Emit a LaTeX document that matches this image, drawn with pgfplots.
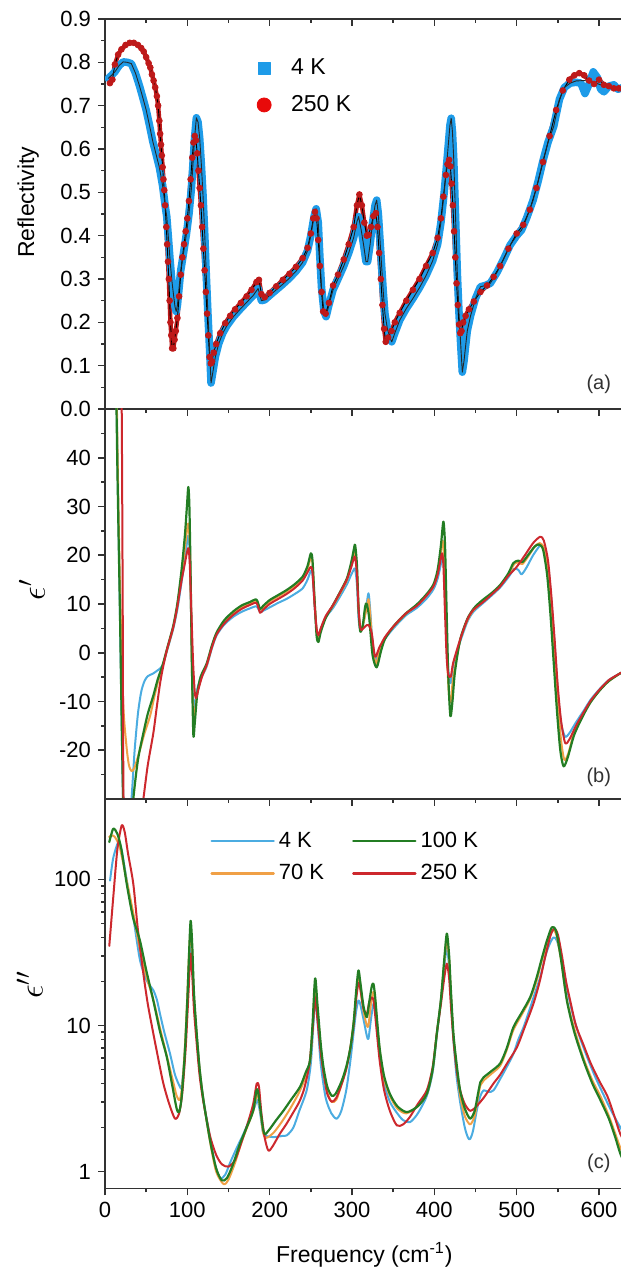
\documentclass[border=0pt]{standalone}
\usepackage{fontspec}
\setmainfont{Liberation Sans}
\usepackage{pgfplots}
\usepackage{pgfplotstable}
\pgfplotsset{compat=1.18}
\definecolor{cblueA}{RGB}{30,155,232}
\definecolor{credA}{RGB}{190,25,25}
\definecolor{credL}{RGB}{232,10,10}
\definecolor{cblue}{RGB}{75,172,225}
\definecolor{corange}{RGB}{240,160,70}
\definecolor{cgreen}{RGB}{35,125,35}
\definecolor{cred}{RGB}{205,40,45}
\definecolor{axgray}{RGB}{50,50,50}

% ---------------- panel (a) : reflectivity ----------------
\pgfplotstableread{
x y
4 0.763
8 0.770
12 0.778
17 0.792
22 0.801
27 0.800
32 0.797
37 0.775
42 0.745
46 0.718
50 0.690
54 0.655
58 0.618
62 0.588
66 0.558
70 0.515
73 0.470
75 0.444
77 0.395
79 0.344
81 0.300
83 0.267
85 0.236
86.5 0.225
88 0.240
90 0.280
92 0.320
95 0.355
99 0.405
102 0.450
105 0.510
107 0.570
109 0.630
111 0.672
113 0.662
115 0.625
117 0.565
119 0.495
121 0.410
123 0.310
125 0.220
127 0.140
128.8 0.060
131 0.085
134 0.120
138 0.150
143 0.175
148 0.192
156 0.213
164 0.230
172 0.246
180 0.262
186 0.278
190 0.250
194 0.252
200 0.262
208 0.275
216 0.288
224 0.302
232 0.318
240 0.338
246 0.365
250 0.400
254 0.445
256.5 0.462
259 0.430
261 0.350
263 0.280
266 0.225
268.5 0.213
272 0.240
277 0.275
283 0.300
290 0.330
296 0.360
302 0.395
306 0.432
308 0.444
311 0.415
314 0.380
317 0.340
319 0.340
322 0.380
325 0.430
328 0.470
330 0.482
332 0.450
334 0.390
336 0.330
338 0.270
340 0.220
343 0.185
346 0.165
348.3 0.155
352 0.175
358 0.205
366 0.232
374 0.255
382 0.280
390 0.308
398 0.342
404 0.380
408 0.430
412 0.500
415 0.565
417 0.610
419 0.655
420.5 0.671
422 0.640
423.5 0.580
425 0.490
426.5 0.400
428 0.310
430 0.220
432 0.150
434 0.085
436 0.110
440 0.180
444 0.215
450 0.255
456 0.282
462 0.285
468 0.290
476 0.315
484 0.345
492 0.378
500 0.400
506 0.413
512 0.440
520 0.482
526 0.525
532 0.573
538 0.615
545 0.652
552 0.715
558 0.742
565 0.752
572 0.754
578 0.752
583 0.728
588 0.750
593 0.778
598 0.765
602 0.738
606 0.732
612 0.745
618 0.748
623 0.738
629 0.742
634 0.740
}\reffourK

\pgfplotstableread{
x y
6 0.752
9 0.760
12 0.795
16 0.818
20 0.830
25 0.840
30 0.845
35 0.845
40 0.840
44 0.833
47 0.825
50 0.812
53 0.798
55 0.788
57 0.772
59 0.758
61 0.742
63 0.722
64.5 0.700
66 0.665
67 0.635
68 0.610
69 0.585
70 0.558
71 0.530
72 0.505
73 0.470
74.5 0.420
75.5 0.380
76.5 0.340
77.5 0.300
78.5 0.250
79.5 0.200
80.5 0.170
81.5 0.140
83 0.140
84.5 0.160
86 0.180
88 0.210
90 0.260
92 0.310
94 0.350
96 0.380
98 0.410
100 0.440
102 0.480
104 0.530
106 0.580
107.5 0.615
109 0.630
110.5 0.620
112 0.590
113.5 0.550
115 0.510
116.5 0.470
118 0.420
119.5 0.370
121 0.320
122.5 0.270
124 0.220
125.5 0.170
127 0.120
128.5 0.105
130 0.110
132 0.130
135 0.150
140 0.175
146 0.198
152 0.215
158 0.230
165 0.245
172 0.260
178 0.275
184 0.293
187 0.298
190 0.265
194 0.258
200 0.268
208 0.283
216 0.298
224 0.312
232 0.328
240 0.348
246 0.372
250 0.405
253 0.440
255 0.455
257 0.440
259 0.390
261 0.330
263 0.270
265 0.225
268 0.220
272 0.245
277 0.285
283 0.310
290 0.345
296 0.380
302 0.420
306 0.470
309 0.495
312 0.470
315 0.430
318 0.400
320 0.402
323 0.420
326 0.445
329 0.452
331 0.420
333 0.360
335 0.300
337 0.240
339 0.185
341 0.155
344 0.165
348 0.180
352 0.200
358 0.222
366 0.250
374 0.275
382 0.300
390 0.330
398 0.360
404 0.395
408 0.440
411 0.490
414 0.540
416 0.565
418 0.575
419.5 0.560
421 0.520
422.5 0.470
424 0.410
425.5 0.350
427 0.290
428.5 0.240
430 0.195
431.5 0.175
433 0.180
435 0.200
438 0.215
442 0.230
448 0.248
456 0.270
464 0.285
472 0.305
480 0.330
490 0.370
500 0.405
508 0.425
516 0.460
524 0.510
532 0.570
540 0.630
548 0.690
556 0.735
564 0.760
570 0.770
576 0.775
582 0.770
588 0.758
594 0.750
600 0.760
606 0.748
612 0.745
618 0.740
624 0.740
629 0.738
634 0.738
}\reftwofiftyK

% ---------------- panel (b) : eps' ----------------
\pgfplotstableread{
x y
10 120
14.3 50
18 10
22 -30
26 -42
30 -35
33 -28
36 -20
40 -12.5
44 -8
48 -5.8
52 -4.8
58 -4.3
64 -3.6
70 -2.6
76 0.8
83 5.0
88 9
93 14.5
97 19
99.5 22.5
101.2 24
103 20
104.5 8
106 -5
107.5 -11.5
109.5 -10
113 -6.8
118 -4.8
123.5 -2.8
130 1.0
135.7 3.6
145 5.8
156 7.4
166 8.4
176 9.1
184 9.5
188.3 8.4
192 8.6
200 9.3
210 10.2
220 11.0
230 12.0
240 13.2
246 15.0
250 16.8
252 16
254.5 10
257 4.5
259.2 3.2
262 4.8
268 7.2
277 9.2
285 11.4
293.7 14.0
299 16
302 17
303.8 17.2
306 14
308 7
310 4.8
313 5.5
317 9
320 12.2
322 9
325 2
329 -1.5
333 0.5
340 2.8
350.3 5.0
365 7.6
378.7 9.2
390 11.0
398.9 13.0
404 15.2
408 18.2
410 19.8
412 17
414 8
416 -1
418 -5.5
420 -6.2
423 -2.5
431.3 2.2
440 6.3
447.5 8.4
460 10.3
470 11.8
480 13.4
490 15.5
497 17.2
502 17.0
506 16.1
512 17.5
520 20
528.6 22.0
533 21.5
538 18
542 11
546 2
550 -8
554 -14.5
558.9 -17.2
564 -16.5
572 -14.3
581 -12
590 -9.6
601 -7.4
612 -5.6
626 -4.2
634 -3.5
}\epsfourK

\pgfplotstableread{
x y
10 120
14.5 50
18 15
22 -10
26 -19
29 -23
32.4 -24.3
36 -23.5
42.5 -19.9
48 -16.5
54.7 -13
60 -9
65 -5.5
70 -2.8
76 1.0
83 5.3
88 9.8
93 16.2
97 21.5
99.5 25
101.2 26.5
103 22
104.5 8
106 -7
107.5 -13
109.5 -11.5
113 -7.5
118 -4.7
123.5 -2.6
130 1.3
135.7 3.9
145 6.3
156 8.1
166 9.3
176 10.1
184 10.6
188.3 8.8
192 9.3
200 10.5
210 11.5
220 12.5
230 13.7
240 15.2
246 17.2
250 19.5
252 18.5
254.5 11
257 4.5
259.2 2.8
262 4.6
268 7.3
277 9.6
285 12.0
293.7 14.8
299 18
302 20
303.8 20.5
306 17
308 9
310 4.8
313 5.5
317 8.5
320 11.0
322 8
325 1.5
329 -2.3
333 0
340 3.0
350.3 5.3
365 7.9
378.7 9.7
390 11.6
398.9 13.6
404 16.2
408 20.5
410 23
412 20
414 8
416 -3
418 -9
420 -10
423 -5
431.3 2.5
440 6.6
447.5 8.7
460 10.6
470 12.1
480 13.7
490 16.0
497 18.2
502 18.5
507 18.2
515 20.0
522 21.8
528 22.5
533 21.5
538 17
542 10
546 0
550 -10
554 -18
558 -22
563 -20.5
570 -16.2
581 -12.6
590 -10
601 -7.6
612 -5.8
626 -4.2
634 -3.5
}\epsseventyK

\pgfplotstableread{
x y
10 120
14 50
18 10
22 -30
26 -45
30 -40
34.4 -30
40 -22
46.6 -16.5
52 -12.5
58.7 -8.8
64 -5.5
70 -2.5
76 1.2
83 5.6
88 10.2
93 17
97 24
99.5 30
101.2 34
102.5 30
104 16
105.5 -2
107.3 -16.8
109 -14.5
112 -8.5
116 -5.0
123.5 -2.2
130 1.6
135.7 4.2
145 6.7
156 8.5
166 9.7
176 10.4
184 10.9
188.3 9.0
192 9.6
200 10.8
210 11.8
220 12.8
230 14.0
240 15.6
246 17.8
250 20.4
252 19
254.5 11
257 3.5
259.2 2.2
262 4.2
268 7.1
277 9.8
285 12.3
293.7 15.2
299 18.5
302 21
303.8 22.1
306 18
308 9
310 4.4
313 5.5
316 9.5
318 10
321 7
325 -0.5
330 -3.0
335 0.2
340 2.8
350.3 5.4
365 8.0
378.7 9.9
390 11.9
398.9 14.0
404 17
408 22
411 26.9
413 22
415 8
417 -5
419.5 -13
422 -10
425 -4
431.3 2.6
440 6.9
447.5 9.0
455 10.3
460 11.0
470 12.3
480 13.9
490 16.3
496 18.4
502 18.9
507 18.6
515 20.3
522 21.8
527 22.2
532 21.2
537 16
541 8
545 -2
549 -12
553 -20
557 -23.3
562 -21.5
570 -16.8
581 -12.8
590 -10.1
601 -7.7
612 -5.8
626 -4.2
634 -3.5
}\epshundredK

\pgfplotstableread{
x y
16 120
18.5 70
20.3 50
21.5 10
22.5 -30
26 -58
30 -60
35 -52
41 -37
46.6 -30
52 -23
58.7 -16.5
63 -11
66.8 -6.4
70 -3.4
74.9 0.4
83 5.3
88 9.6
93 14.8
97 18.3
99.5 20.5
101.5 21.4
103 18
105 8
107 -2
109 -8
110.6 -9.3
113 -7.8
118 -4.8
123.5 -2.5
130 1.2
135.7 3.8
145 6.0
156 7.8
166 9.0
176 9.8
184 10.2
188.3 8.2
192 8.8
200 10.0
210 11.0
220 12.0
230 13.2
240 14.8
246 16.5
250 17.6
252 16.5
254.5 10
257 5
259.2 3.6
262 5
268 7.5
277 9.8
285 12.2
293.7 15
299 17.5
302 19.2
303.8 19.7
306 16
308 9
310 5.2
312 4.7
316 5.4
320 5.7
324 4.0
328 -0.8
333 1.0
340 3.2
350.3 5.4
365 8.0
378.7 9.6
390 11.6
398.9 13.6
404 16
408 19.5
409.5 20.4
411 18
413 8
415 -1
417 -4.5
420 -4.9
423 -2
431.3 2.7
440 6.8
447.5 8.8
460 10.5
470 12.0
480 13.6
490 15.8
500 17.6
510 20
520 22.5
528.6 23.8
533 23
538 19
542 12
546 3
550 -7
554 -14
558.9 -18.5
564 -17.8
572 -15
581 -12.3
590 -9.8
601 -7.5
612 -5.6
626 -4.2
634 -3.5
}\epstwofiftyK

% ---------------- panel (c) : eps'' ----------------
\pgfplotstableread{
x y
6.1 98
10 140
16.2 180
20 160
25 110
30 75
34.4 55
42.5 28
50.7 20.3
58.7 17.4
63 15
66.8 12
72 9
79 6.4
85 4.6
91 3.8
93 3.8
96 5.5
100 14
102 25
104 40
106 28
108 15
111.4 8.5
115 5
119.5 3.1
127.6 1.7
134 1.1
140 0.9
146 0.95
152 1.15
160 1.45
168 1.8
176 2.3
182 2.8
185 3.1
188 2.6
192 1.85
196 1.75
205 1.72
215 1.75
221 1.77
228.8 2.0
236 2.6
245 3.6
250 5.5
253 10
255.5 15
258 11
262 5.5
268 3.2
275 2.5
281.4 2.3
287 2.6
293 3.6
298 5.7
302 9
305 12.5
307.8 14.8
310 14
314 11
318 8.5
320 8.1
323 11
326 14
328 13
331 9
334 6
339 4.0
346 3.0
355 2.5
362 2.25
370.6 2.18
380 2.5
390.9 3.3
398 4.8
403 8.5
408 15
412 25
415.2 34
418 25
420 16
423.2 8.0
427 4.5
431.3 3.0
437 2.0
441 1.7
443.5 1.67
447 1.9
452 2.7
456 3.3
460 3.6
466 3.5
472 3.6
480 4.3
488 5.2
496.1 6.4
502 8.0
508.3 9.7
515 12.5
522 16.5
528.6 21.4
535 30
540 36
544.7 40
549 38
555 28
561 18
568 12
576 8.5
585 6.2
595 4.5
605 3.4
615 2.6
626 2.0
634 1.7
}\lossfourK

\pgfplotstableread{
x y
5 195
8 200
12 195
18 165
26 100
34 60
42.5 33
50 22
58.7 15
67 9.5
75 6.2
82 4.3
87 3.3
91 3.1
94 4
97 7
100 16
102 30
104 45
106 32
108 16
111.4 8.6
115 5
119.5 3.1
127.6 1.6
135 1.0
144 0.82
150 0.88
158 1.15
166 1.6
174 2.1
180 2.6
185 3.4
188 2.8
192 1.85
196 1.7
205 1.85
215 2.2
225 2.7
236 3.5
244 4.5
249 5.6
252 9.5
255.2 18.5
258 13
262 7
265 5.0
270 3.5
275.4 3.0
281 3.1
287 3.9
293 5.1
298 7.0
302 10.5
305 16
307.8 21
310 18
314 12.5
318 10
320 10
323 14
326 17
328 15
331 9.5
334 6.5
339 4.3
346 3.3
355 2.7
366 2.5
380 2.8
390.9 3.4
398 5
403 8.8
408 15
412 27
415.2 38
418 28
420 17
423.2 8.5
427 5.2
431.3 3.3
437 2.4
443.5 2.1
449 2.4
453 3.2
456 3.9
460 4.2
470 4.7
480 5.3
488 6.8
496 9.3
506 11.8
516 15
524 20
530 27
536.7 36
542.8 45
548 42
554 28
561 15
570 9.5
581 6.0
592 4.2
601.5 3.3
612 2.4
620 1.8
626 1.45
634 1.2
}\lossseventyK

\pgfplotstableread{
x y
5.2 180
10 222
15 205
20 160
26.4 93
34 55
42.5 38
50 24
58.7 14.8
67 9.0
75 6.1
82 3.8
87 2.7
90 2.55
93 3.2
97 6.5
100 15
102 30
104 52
106 35
108 17
111.4 8.8
115 5
119.5 3.1
127.6 1.63
135 1.05
141.8 0.87
148 0.9
155 1.1
164 1.55
172 2.0
180 2.6
184 3.6
186 3.5
189 2.6
192 1.95
194.4 1.8
200 1.95
208 2.25
216.6 2.6
226 3.1
236.9 3.8
244 4.8
249 5.75
252 10
255.2 21
258 14
262 7.5
265.3 5.2
270 3.8
275.4 3.3
280 3.4
287 4.1
293 5.2
298 7.0
302 10.5
305 17
307.8 23.8
310 20
314 13.5
318 11.4
321 14.5
324 18.5
326 19.3
328 16
331 10
334 6.7
339 4.5
346 3.4
355 2.8
366.6 2.55
380 2.8
390.9 3.4
398 5
403 8.8
408 15
412 28
415.2 42.5
418 30
420 18
423.2 8.8
427 5.5
431.3 3.6
437 2.7
443.5 2.3
449 2.6
453 3.4
456 4.1
459.6 4.4
470 4.9
480 5.5
488 7.0
496 9.7
506 12.2
516.4 15.6
524 21
530 28
536.7 38
542.8 47
548 44
554 28
561 14.8
570 9
581.2 5.75
592 4.0
601.5 3.1
612 2.3
620 1.7
626 1.32
634 1.05
}\losshundredK

\pgfplotstableread{
x y
5.2 35
10 75
15 160
20.3 234
24 210
28 150
34.4 93
40 45
46.6 22.6
52 14
58.7 8.8
65 5.8
70.9 4.0
78 2.9
85 2.3
90 2.5
94 3.5
98 7
101 15
104 31
106 22
108 13
111.4 7.5
115 4.5
119.5 3.0
127.6 1.75
135 1.3
142 1.12
150 1.08
158 1.2
166 1.6
174 2.2
180 2.9
184.3 4.0
187 3.8
190 2.5
194 1.7
198.5 1.39
204 1.5
212 1.8
220 2.1
228 2.5
236 3.0
242 3.7
248 5.3
252 9
255.2 15.6
258 11
262 6.5
266 4.5
270 3.4
275.4 3.0
281 3.2
287 3.9
293 5.0
298 7.0
302 10
305 15
307.8 19.5
310 18
314 13
318 12
321 14.5
324 15.5
326 15
328 12
331 8
334 5.5
339 3.6
346 2.6
354.4 2.07
362 2.1
370 2.35
380 2.9
390.9 3.6
398 5.2
403 8.8
408 14
412 21
415.2 26.5
418 21
420 14
423.2 8.0
427 5.0
431.3 3.6
437 2.9
443.5 2.6
450 2.75
460 3.2
471.8 4.0
480 4.6
490 5.7
500.4 7.1
510 9.8
520.4 14.1
528 20
535 30
541 41
545.6 46
550 42
555 30
560 20
565 14.8
572 10
581 7.4
590 5.5
600 4.2
610 3.3
617.6 2.5
626 1.8
634 1.5
}\losstwofiftyK

\pgfplotsset{
  common/.style={
    scale only axis, width=259.35pt, height=195pt,
    xmin=0, xmax=630,
    xtick={0,100,...,600}, minor x tick num=1,
    xtick pos=bottom, ytick pos=left,
    tick align=outside,
    major tick length=3.5pt, minor tick length=2pt,
    axis line style={line width=0.8pt, axgray},
    every tick/.style={line width=0.8pt, axgray},
    tick label style={font=\fontsize{11}{13}\selectfont},
    /pgf/number format/assume math mode=true,
    every axis plot/.append style={line join=round, line cap=round},
  }
}

\begin{document}
\begin{tikzpicture}
\useasboundingbox (0,0) rectangle (310pt,636pt);

% ================= (a) =================
\begin{axis}[common, at={(52.5pt,431.5pt)}, anchor=south west,
  ymin=0, ymax=0.9,
  ytick={0,0.1,0.2,0.3,0.4,0.5,0.6,0.7,0.8,0.9}, minor y tick num=1,
  xticklabels={},
  yticklabel style={/pgf/number format/fixed, /pgf/number format/fixed zerofill, /pgf/number format/precision=1},
  ylabel={Reflectivity},
  ylabel style={at={(axis description cs:-0.148,0.53)}, anchor=center, font=\fontsize{11.5}{13}\selectfont},
  legend style={draw=none, fill=none, at={(axis description cs:0.281,0.92)}, anchor=north west,
    font=\fontsize{11.5}{13}\selectfont, row sep=5pt,
    /tikz/every odd column/.append style={column sep=8pt}},
  legend cell align=left,
]
\addplot[forget plot, credA, line width=2.2pt] table {\reftwofiftyK};
\addplot[forget plot, only marks, mark=*, mark size=1.45pt, credA] table {\reftwofiftyK};
\addplot[forget plot, cblueA, line width=3.8pt] table {\reffourK};
\addplot[forget plot, black, line width=0.45pt] table {\reftwofiftyK};
\addplot[forget plot, black!85, line width=0.45pt, restrict x to domain=0:566] table {\reffourK};
\addplot[forget plot, black!85, line width=0.45pt] coordinates {(565,0.752) (572,0.757) (582,0.758) (592,0.755) (602,0.748) (612,0.744) (622,0.741) (634,0.740)};
\addlegendimage{only marks, mark=square*, mark size=3pt, cblueA}
\addlegendentry{4 K}
\addlegendimage{only marks, mark=*, mark size=3.5pt, credL}
\addlegendentry{250 K}
\node[font=\fontsize{10}{12}\selectfont, text=axgray] at (axis description cs:0.952,0.064) {(a)};
\end{axis}
% top ticks of (a)
\begin{axis}[scale only axis, width=259.35pt, height=195pt, at={(52.5pt,431.5pt)}, anchor=south west,
  xmin=0, xmax=630, ymin=0, ymax=1,
  axis x line*=top, axis y line=none,
  xtick={0,100,...,600}, minor x tick num=1, xticklabels={},
  xtick align=inside, major tick length=3.5pt, minor tick length=2pt,
  axis line style={line width=0.8pt, axgray},
  every tick/.style={line width=0.8pt, axgray},
]
\addplot[draw=none] coordinates {(0,0) (630,1)};
\end{axis}

% ================= (b) =================
\begin{axis}[common, at={(52.5pt,236.5pt)}, anchor=south west,
  ymin=-30, ymax=50,
  ytick={-20,-10,0,10,20,30,40},
  minor ytick={-25,-15,-5,5,15,25,35,45},
  xticklabels={},
  ylabel={$\epsilon'$},
  ylabel style={at={(axis description cs:-0.141,0.536)}, anchor=center, font=\fontsize{17}{20}\selectfont},
]
\addplot[cblue, line width=1pt, smooth, tension=0.45] table {\epsfourK};
\addplot[corange, line width=1pt, smooth, tension=0.45] table {\epsseventyK};
\addplot[cgreen, line width=1.1pt, smooth, tension=0.45] table {\epshundredK};
\addplot[cred, line width=1pt, smooth, tension=0.45] table {\epstwofiftyK};
\node[font=\fontsize{10}{12}\selectfont, text=axgray] at (axis description cs:0.952,0.056) {(b)};
\end{axis}

% ================= (c) =================
\begin{axis}[common, at={(52.5pt,41.75pt)}, anchor=south west, height=194.75pt,
  ymode=log, ymin=0.765, ymax=355,
  ytick={1,10,100}, log ticks with fixed point,
  xticklabels={0,100,200,300,400,500,600},
  xlabel={Frequency (cm\textsuperscript{-1})},
  xlabel style={at={(axis description cs:0.5,-0.1695)}, anchor=center, font=\fontsize{11.5}{13}\selectfont},
  ylabel={$\epsilon''$},
  ylabel style={at={(axis description cs:-0.145,0.523)}, anchor=center, font=\fontsize{17}{20}\selectfont},
  legend columns=2,
  legend style={draw=none, fill=none, at={(axis description cs:0.191,0.937)}, anchor=north west,
    font=\fontsize{11}{13}\selectfont, row sep=3pt,
    /tikz/every even column/.append style={column sep=12pt}},
  legend cell align=left,
  legend image code/.code={\draw[#1, line width=1.2pt] (0pt,0pt) -- (31pt,0pt);},
]
\addplot[forget plot, cblue, line width=1pt, smooth, tension=0.45] table {\lossfourK};
\addplot[forget plot, corange, line width=1pt, smooth, tension=0.45] table {\lossseventyK};
\addplot[forget plot, cred, line width=1pt, smooth, tension=0.45] table {\losstwofiftyK};
\addplot[forget plot, cgreen, line width=1.1pt, smooth, tension=0.45] table {\losshundredK};
\addlegendimage{cblue}
\addlegendentry{4 K}
\addlegendimage{cgreen}
\addlegendentry{100 K}
\addlegendimage{corange}
\addlegendentry{70 K}
\addlegendimage{cred}
\addlegendentry{250 K}
\node[font=\fontsize{10}{12}\selectfont, text=axgray] at (axis description cs:0.952,0.064) {(c)};
\end{axis}
\end{tikzpicture}
\end{document}
